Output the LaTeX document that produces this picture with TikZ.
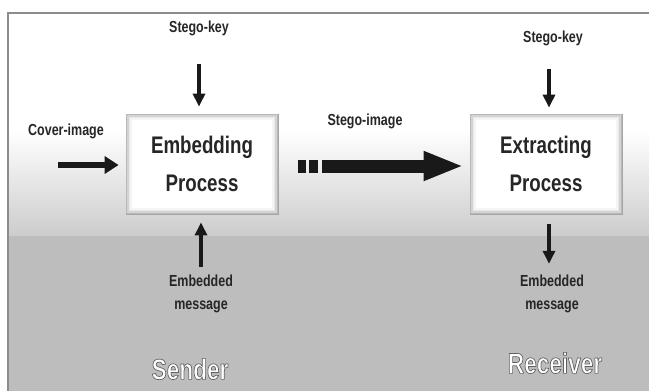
\documentclass[tikz,border=0pt]{standalone}
\usepackage{fontspec}
\setmainfont{Liberation Sans}
\newfontfamily\condfont[FakeStretch=0.78]{Liberation Sans}
\usetikzlibrary{arrows.meta,calc}
\newcommand{\outlinetext}[1]{{\color{white}\special{pdf:literal direct 0.38 G 0.7 w 1 j 2 Tr}#1\special{pdf:literal direct 0 Tr}}}
\tikzset{
  procbox/.style={minimum width=152pt, minimum height=100pt, fill=white, draw=black!35, line width=0.8pt, align=center, inner sep=0pt,
    font=\condfont\bfseries\fontsize{24}{38}\selectfont, text=black!85},
  lab/.style={align=center, inner sep=0pt, font=\condfont\bfseries\fontsize{16}{23}\selectfont, text=black!85},
  role/.style={inner sep=0pt, font=\condfont\bfseries\fontsize{29}{30}\selectfont},
  thinarr/.style={line width=3.5pt, -{Triangle[length=13pt,width=12pt]}, black!90},
  medarr/.style={line width=6pt, -{Triangle[length=14pt,width=17pt]}, black!90},
  bigarr/.style={line width=13pt, -{Triangle[length=40pt,width=27pt]}, black!90},
}
\begin{document}
\begin{tikzpicture}[x=1pt,y=-1pt]
\useasboundingbox (0,0) rectangle (649,391);
\clip (0,0) rectangle (649,391);
\fill[white] (0,0) rectangle (649,391);
% background
\fill[white] (8,13) rectangle (652,130);
\shade[top color=white, bottom color=black!20] (8,130) rectangle (652,236);
\fill[black!26] (8,236) rectangle (652,395);
\draw[black!45, line width=1.5pt] (8,13) rectangle (660,395);
% boxes
\node[procbox] (emb) at (202,164) {Embedding\\Process};
\node[procbox] (ext) at (546,164) {Extracting\\Process};
\foreach \n in {emb,ext}{
  \foreach \i/\c in {1.2/28,2.6/17,4/9,5.4/4}
    \draw[black!\c, line width=1.5pt] ($(\n.south west)+(\i,-\i)$) rectangle ($(\n.north east)+(-\i,\i)$);
}
% labels
\node[lab] (key1) at (199,28) {Stego-key};
\node[lab] (key2) at (553,38) {Stego-key};
\node[lab] (cov) at (66,131) {Cover-image};
\node[lab] (sti) at (365,121) {Stego-image};
\node[lab] (msg1) at (201,294) {Embedded\\message};
\node[lab] (msg2) at (552,294) {Embedded\\message};
\node[role] (send) at (190,369) {\outlinetext{Sender}};
\node[role] (recv) at (555,363) {\outlinetext{Receiver}};
% connectors
\coordinate (c0) at (58,165);
\draw[medarr, shorten >=7pt] (c0) -- (emb.west |- c0);
\draw[thinarr, shorten <=28pt, shorten >=7pt] (key1.south -| 199,0) -- (emb.north -| 199,0);
\draw[thinarr, shorten <=23pt, shorten >=6pt] (key2.south -| 549,0) -- (ext.north -| 549,0);
\draw[thinarr, shorten <=8pt, shorten >=8pt] (msg1.north -| 201,0) -- (emb.south -| 201,0);
\draw[thinarr, shorten <=10pt, shorten >=11pt] (ext.south -| 549,0) -- (msg2.north -| 549,0);
\draw[bigarr, dash pattern=on 8pt off 3pt on 9pt off 4pt on 500pt, shorten <=20pt, shorten >=6pt] (emb.east |- 0,166) -- (ext.west |- 0,166);
\end{tikzpicture}
\end{document}
